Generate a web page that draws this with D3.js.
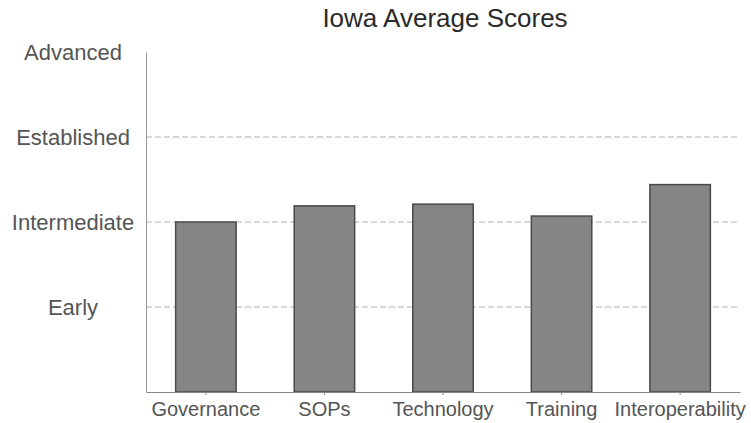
<!DOCTYPE html>
<html><head><meta charset="utf-8">
<script src="https://cdn.jsdelivr.net/npm/d3@7"></script>
<style>body{margin:0;background:#fff}</style>
</head><body>
<svg id="c" width="751" height="423"></svg>
<script>
const categories = ["Governance","SOPs","Technology","Training","Interoperability"];
const scores = [2.0, 2.19, 2.21, 2.07, 2.44];
const levelLabels = ["Early","Intermediate","Established","Advanced"];
const levelValues = [1,2,3,4];

const svg = d3.select("#c");
const m = {left:146, right:11, top:52, bottom:31};
const W = 751, H = 423;
const FONT = "Liberation Sans, Arial, sans-serif";
const x = d3.scaleBand().domain(categories).range([m.left, W-m.right]).paddingInner(0.49).paddingOuter(0.25);
const y = d3.scaleLinear().domain([0,4]).range([H-m.bottom, m.top]);

svg.append("text").attr("x",445).attr("y",27).attr("text-anchor","middle")
  .attr("font-family",FONT).attr("font-size",26).attr("fill","#2a2a2a")
  .text("Iowa Average Scores");

// gridlines
svg.append("g").selectAll("line").data(levelValues.slice(0,3)).join("line")
  .attr("x1",m.left).attr("x2",W-m.right)
  .attr("y1",d=>y(d)).attr("y2",d=>y(d))
  .attr("stroke","#b0b0b0").attr("stroke-width",1).attr("stroke-dasharray","6,3");

// y axis
const ya = svg.append("g").attr("transform",`translate(${m.left},0)`)
  .call(d3.axisLeft(y).tickValues(levelValues).tickFormat(d=>levelLabels[d-1]).tickSize(0).tickPadding(0));
ya.select(".domain").attr("stroke","#999");
ya.selectAll("text").attr("x",-73).attr("dy","0.35em").attr("text-anchor","middle")
  .attr("font-family",FONT).attr("font-size",22).attr("fill","#555");

// bars
svg.append("g").selectAll("rect").data(categories).join("rect")
  .attr("x",d=>x(d)).attr("width",x.bandwidth())
  .attr("y",(d,i)=>y(scores[i])).attr("height",(d,i)=>y(0)-y(scores[i]))
  .attr("fill","#858585").attr("stroke","#4a4a4a").attr("stroke-width",1.5);

// x axis
const xa = svg.append("g").attr("transform",`translate(0,${y(0)})`)
  .call(d3.axisBottom(x).tickSize(3).tickPadding(7).tickSizeOuter(0));
xa.select(".domain").attr("stroke","#888");
xa.selectAll(".tick line").attr("stroke","#888");
xa.selectAll("text").attr("font-family",FONT).attr("font-size",20).attr("fill","#555");
</script>
</body></html>
